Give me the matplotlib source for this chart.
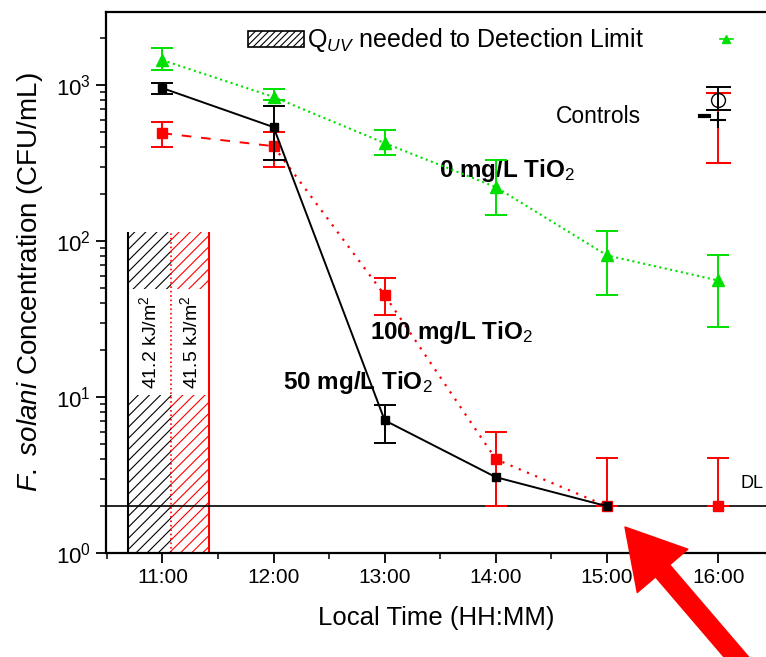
import numpy as np
import matplotlib
matplotlib.use("Agg")
import matplotlib.pyplot as plt
from matplotlib.patches import Rectangle
from matplotlib.ticker import FixedLocator, FixedFormatter, LogLocator

plt.rcParams['font.family'] = ['Liberation Sans', 'DejaVu Sans']
plt.rcParams['mathtext.fontset'] = 'custom'
plt.rcParams['mathtext.rm'] = 'Liberation Sans'
plt.rcParams['mathtext.it'] = 'Liberation Sans:italic'
plt.rcParams['mathtext.bf'] = 'Liberation Sans:bold'
plt.rcParams['hatch.linewidth'] = 0.8

# data (hours of local time, CFU/mL)
hours = [11, 12, 13, 14, 15, 16]
tick_labels = ["11:00", "12:00", "13:00", "14:00", "15:00", "16:00"]

green = [1446, 840, 425, 222, 81, 56]
green_lo = [1248, 800, 355, 147, 45, 28]
green_hi = [1727, 945, 515, 330, 117, 81]

black_t = [11, 12, 13, 14, 15]
black = [957, 538, 7.1, 3.07, 2.0]
black_lo = [880, 330, 5.1]
black_hi = [1030, 733, 8.9]

red = [492, 406, 45, 4.0, 2.0, 2.0]
red_lo = [400, 298, 33.6, 2.0, 2.0, 2.0]
red_hi = [579, 500, 58, 5.97, 4.06, 4.06]

ctrl_t = 16
ctrl_black = 801
ctrl_black_err = [692, 970]
ctrl_red = 597
ctrl_red_err = [316, 889]

detection_limit = 2.0

# UV dose columns (start, end) in hours, with their labels
uv_start = [10.69, 11.08]
uv_end = [11.08, 11.42]
uv_labels = ["41.2 kJ/m$^2$", "41.5 kJ/m$^2$"]
uv_colors = ["black", "red"]
uv_top = 114
uv_gap = [10.3, 49]

fig = plt.figure(figsize=(7.66, 6.57), dpi=100)
ax = fig.add_axes([0.138, 0.158, 0.862, 0.824])

gcol = "#00e000"
rcol = "#ff0000"

# hatched UV columns
for s, e, lab, c in zip(uv_start, uv_end, uv_labels, uv_colors):
    for y0, y1 in [(1, uv_gap[0]), (uv_gap[1], uv_top)]:
        ax.add_patch(Rectangle((s, y0), e - s, y1 - y0, facecolor="none",
                               edgecolor=c, hatch="///", lw=0, zorder=1))
    ax.text((s + e) / 2, np.sqrt(uv_gap[0] * uv_gap[1]), lab, rotation=90,
            ha="center", va="center", fontsize=14, color="black")
ax.vlines(uv_start[0], 1, uv_top, color="black", lw=1.5, zorder=2)
ax.vlines(uv_start[1], 1, uv_top, color=rcol, lw=1.2, ls=":", zorder=2)
ax.vlines(uv_end[1], 1, uv_top, color=rcol, lw=1.5, zorder=2)

# detection limit
ax.axhline(detection_limit, color="black", lw=1.2, zorder=2)

def yerr(v, lo, hi):
    return [np.array(v) - np.array(lo), np.array(hi) - np.array(v)]

# 0 mg/L
ax.errorbar(hours, green, yerr=yerr(green, green_lo, green_hi), color=gcol,
            ls=":", lw=1.5, marker="^", ms=8, capsize=8, elinewidth=1.4,
            capthick=1.4, zorder=4)
# 50 mg/L
ax.plot(black_t, black, color="black", ls="-", lw=1.4, marker="s", ms=6, zorder=5)
ax.errorbar(black_t[:3], black[:3], yerr=yerr(black[:3], black_lo, black_hi),
            color="black", ls="none", capsize=8, elinewidth=1.4, capthick=1.4,
            zorder=5)
# 100 mg/L
ax.errorbar(hours, red, yerr=yerr(red, red_lo, red_hi), color=rcol, ls="none",
            marker="s", ms=7, capsize=8, elinewidth=1.4, capthick=1.4, zorder=4)
ax.plot(hours[:2], red[:2], color=rcol, ls=(0, (5, 5)), lw=1.4, zorder=3)
ax.plot(hours[1:5], red[1:5], color=rcol, ls=(0, (1, 3)), lw=1.6, zorder=3)

# controls
ax.errorbar([ctrl_t], [ctrl_red], yerr=[[ctrl_red - ctrl_red_err[0]], [ctrl_red_err[1] - ctrl_red]],
            color=rcol, marker="+", mec="black", ms=12, mew=1.5, capsize=9,
            elinewidth=1.4, capthick=1.4, zorder=4)
ax.errorbar([ctrl_t], [ctrl_black], yerr=[[ctrl_black - ctrl_black_err[0]], [ctrl_black_err[1] - ctrl_black]],
            color="black", marker="o", mfc="none", ms=10, capsize=9,
            elinewidth=1.4, capthick=1.4, zorder=5)

# legend-like keys
ax.add_patch(Rectangle((0.215, 0.935), 0.085, 0.03, transform=ax.transAxes,
                       facecolor="none", edgecolor="black", hatch="/////", lw=1.2))
ax.text(0.305, 0.948, "Q$_{UV}$ needed to Detection Limit", transform=ax.transAxes,
        fontsize=18, va="center", ha="left")
ax.plot([0.93, 0.94, 0.95], [0.95, 0.95, 0.95], transform=ax.transAxes,
        color=gcol, lw=1.2, marker="^", markevery=[1], ms=6, clip_on=False)
ax.text(0.81, 0.807, "Controls", transform=ax.transAxes, fontsize=16.5,
        ha="right", va="center")
ax.plot([0.9, 0.914], [0.807, 0.807], transform=ax.transAxes, color="black", lw=3)

# series labels
ax.text(0.505, 0.706, "0 mg/L TiO$_2$", transform=ax.transAxes, fontsize=17.5,
        fontweight="bold", ha="left", va="center")
ax.text(0.40, 0.408, "100 mg/L TiO$_2$", transform=ax.transAxes, fontsize=17.5,
        fontweight="bold", ha="left", va="center")
ax.text(0.268, 0.316, "50 mg/L TiO$_2$", transform=ax.transAxes, fontsize=17.5,
        fontweight="bold", ha="left", va="center")
ax.text(16.2, 2.8, "DL", fontsize=13, ha="left", va="center")

ax.set_yscale("log")
ax.set_ylim(1, 2950)
ax.set_xlim(10.49, 16.43)
ax.xaxis.set_major_locator(FixedLocator(hours))
ax.xaxis.set_major_formatter(FixedFormatter(tick_labels))
ax.xaxis.set_minor_locator(FixedLocator([h + 0.5 for h in [10] + hours]))
ax.yaxis.set_major_locator(LogLocator(base=10, numticks=10))
ax.yaxis.set_minor_locator(LogLocator(base=10, subs=np.arange(2, 10), numticks=10))

ax.tick_params(axis="x", which="major", direction="out", length=7, width=1.3,
               labelsize=15)
ax.tick_params(axis="y", which="major", direction="out", length=7, width=1.3,
               labelsize=16)
ax.tick_params(axis="both", which="minor", direction="out", length=4, width=1.1)
for sp in ["left", "bottom", "top"]:
    ax.spines[sp].set_linewidth(1.6)
ax.spines["right"].set_visible(False)

ax.set_xlabel("Local Time (HH:MM)", fontsize=18.5, labelpad=14)
ax.set_ylabel("$\\it{F.\\ solani}$ Concentration (CFU/mL)", fontsize=20, labelpad=8)

# red arrow pointing at the 15:00 point
ax.annotate("", xy=(625 / 766, 1 - 527 / 657), xytext=(742 / 766, -0.01),
            xycoords="figure fraction", textcoords="figure fraction",
            arrowprops=dict(arrowstyle="simple,head_length=1.3,head_width=1.5,tail_width=0.42",
                            color=rcol, mutation_scale=32, shrinkA=0, shrinkB=0),
            annotation_clip=False)

fig.savefig("out.png", dpi=100)
